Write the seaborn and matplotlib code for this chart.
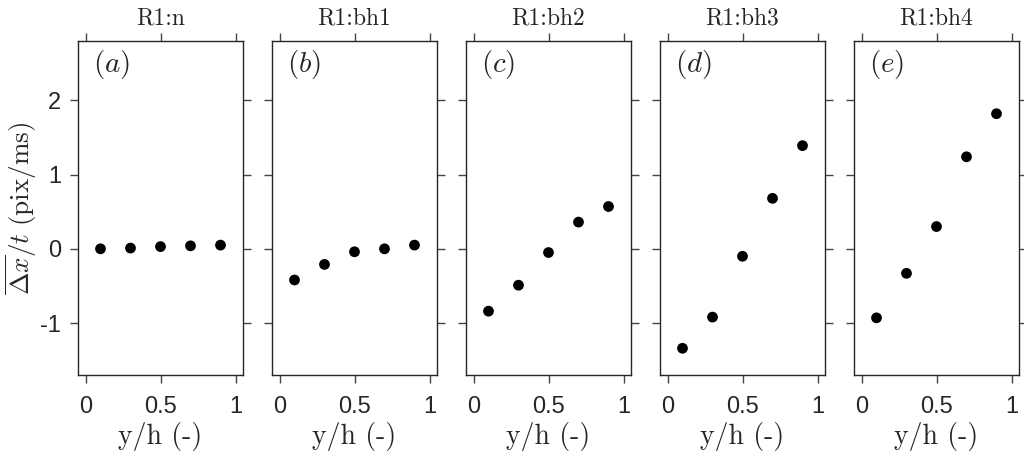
import numpy as np
import pandas as pd
import matplotlib
matplotlib.use("Agg")
import matplotlib.pyplot as plt
import seaborn as sns

# Measurement positions across the channel height
y_over_h = [0.1, 0.3, 0.5, 0.7, 0.9]

# Mean streamwise displacement rate per case (pix/ms)
vel_n = [0.00, 0.01, 0.03, 0.04, 0.05]
vel_bh1 = [-0.42, -0.21, -0.04, 0.00, 0.05]
vel_bh2 = [-0.84, -0.49, -0.05, 0.36, 0.57]
vel_bh3 = [-1.34, -0.92, -0.10, 0.68, 1.39]
vel_bh4 = [-0.93, -0.33, 0.30, 1.24, 1.82]

case_titles = ["R1:n", "R1:bh1", "R1:bh2", "R1:bh3", "R1:bh4"]
panel_tags = ["(a)", "(b)", "(c)", "(d)", "(e)"]
x_ticks = [0, 0.5, 1]
x_tick_labels = ["0", "0.5", "1"]
y_ticks = [-1, 0, 1, 2]
y_tick_labels = ["-1", "0", "1", "2"]

series = [vel_n, vel_bh1, vel_bh2, vel_bh3, vel_bh4]

sns.set_theme(style="ticks")
plt.rcParams["font.family"] = ["Liberation Sans", "DejaVu Sans"]
plt.rcParams["mathtext.fontset"] = "cm"
plt.rcParams["axes.edgecolor"] = "#262626"
plt.rcParams["axes.linewidth"] = 1.0

SERIF = "cmr10"

fig = plt.figure(figsize=(10.24, 4.53), dpi=100)

left0 = 78 / 1024
width = 165 / 1024
step = 194 / 1024
bottom = 78 / 453
height = 334 / 453

for i, (vals, title, tag) in enumerate(zip(series, case_titles, panel_tags)):
    ax = fig.add_axes([left0 + i * step, bottom, width, height])
    df = pd.DataFrame({"pos": y_over_h, "rate": vals})
    sns.scatterplot(data=df, x="pos", y="rate", ax=ax, color="black",
                    s=60, edgecolor="none", legend=False)
    ax.set_xlim(-0.05, 1.05)
    ax.set_ylim(-1.7, 2.8)
    ax.set_xticks(x_ticks)
    ax.set_xticklabels(x_tick_labels)
    ax.set_yticks(y_ticks)
    if i == 0:
        ax.set_yticklabels(y_tick_labels)
        ax.set_ylabel(r"$\overline{\Delta x}/t\ \mathrm{(pix/ms)}$", fontsize=19.5, labelpad=1)
    else:
        ax.set_yticklabels([])
        ax.set_ylabel("")
    ax.tick_params(axis="both", which="both", direction="out", length=6, width=1,
                   color="#444444", top=True, right=True, labelsize=17, pad=6)
    ax.tick_params(axis="x", pad=9)
    ax.set_xlabel("y/h (-)", fontsize=20, family=SERIF, labelpad=3)
    ax.set_title(title, fontsize=17, family=SERIF, pad=12)
    ax.text(0.09, 0.98, r"$\mathit{" + tag + "}$", transform=ax.transAxes,
            ha="left", va="top", fontsize=21)
    for sp in ax.spines.values():
        sp.set_visible(True)

fig.savefig("out.png", dpi=100)
